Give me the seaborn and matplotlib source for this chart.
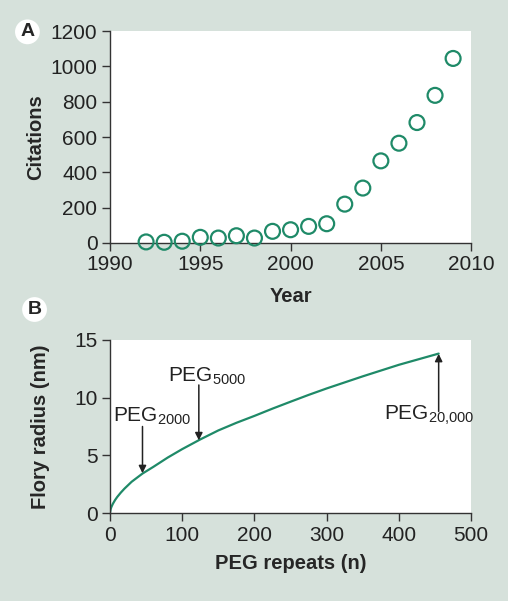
import matplotlib
matplotlib.use("Agg")
import matplotlib.pyplot as plt
import seaborn as sns
import pandas as pd

years = [1992, 1993, 1994, 1995, 1996, 1997, 1998, 1999, 2000, 2001, 2002,
         2003, 2004, 2005, 2006, 2007, 2008, 2009]
citations = [6, 4, 10, 32, 28, 41, 28, 66, 75, 94, 109,
             220, 311, 465, 565, 682, 836, 1045]

peg_repeats = [0, 1, 2, 4, 7, 10, 15, 20, 30, 45, 60, 80, 100, 125, 150, 175, 200,
               225, 250, 275, 300, 350, 400, 455]
flory_radius = [0.0, 0.35, 0.53, 0.80, 1.12, 1.39, 1.77, 2.11, 2.71, 3.42, 4.00,
                4.81, 5.54, 6.38, 7.16, 7.82, 8.42, 9.05, 9.65, 10.24, 10.80,
                11.85, 12.85, 13.82]

# label, arrow x, arrow tip y, arrow tail y, text x, text baseline y
markers = [("PEG$_{2000}$", 45, 3.45, 7.5, 4, 7.9),
           ("PEG$_{5000}$", 123, 6.3, 11.1, 80, 11.35),
           ("PEG$_{20{,}000}$", 455, 13.8, 8.8, 379, 8.05)]

sns.set_theme(style="ticks")
plt.rcParams["font.family"] = ["Liberation Sans", "DejaVu Sans"]
plt.rcParams["mathtext.fontset"] = "custom"
plt.rcParams["mathtext.rm"] = "Liberation Sans"
plt.rcParams["mathtext.default"] = "regular"

bg = "#d6e1db"
green = "#1f8a68"
dark = "#333333"
fs = 15

fig = plt.figure(figsize=(5.08, 6.01), dpi=100, facecolor=bg)
axA = fig.add_axes([0.2165, 0.5957, 0.711, 0.3526])
axB = fig.add_axes([0.2165, 0.1464, 0.711, 0.2879])

dfA = pd.DataFrame({"Year": years, "Citations": citations})
sns.scatterplot(data=dfA, x="Year", y="Citations", ax=axA, s=115,
                facecolor="none", edgecolor=green, linewidth=1.6, clip_on=False, zorder=5)
axA.set_xlim(1990, 2010)
axA.set_ylim(0, 1200)
axA.set_xticks([1990, 1995, 2000, 2005, 2010])
axA.set_yticks(range(0, 1201, 200))
axA.set_xlabel("Year", fontsize=fs - 0.5, fontweight="bold", labelpad=9)
axA.set_ylabel("Citations", fontsize=fs - 0.5, fontweight="bold", labelpad=4)

dfB = pd.DataFrame({"n": peg_repeats, "R": flory_radius})
sns.lineplot(data=dfB, x="n", y="R", ax=axB, color=green, linewidth=1.6)
axB.set_xlim(0, 500)
axB.set_ylim(0, 15)
axB.set_xticks(range(0, 501, 100))
axB.set_yticks([0, 5, 10, 15])
axB.set_xlabel("PEG repeats (n)", fontsize=fs - 0.5, fontweight="bold", labelpad=7)
axB.set_ylabel("Flory radius (nm)", fontsize=fs - 0.5, fontweight="bold", labelpad=17)

for label, x, ytip, ytail, tx, ty in markers:
    axB.annotate("", xy=(x, ytip), xytext=(x, ytail),
                 arrowprops=dict(arrowstyle="-|>", color="#222222", lw=1.1,
                                 mutation_scale=11, shrinkA=0, shrinkB=0))
    axB.text(tx, ty, label, ha="left", va="baseline", fontsize=fs, color="#222222")

for ax in (axA, axB):
    ax.set_facecolor("white")
    sns.despine(ax=ax)
    for s in ("left", "bottom"):
        ax.spines[s].set_color(dark)
        ax.spines[s].set_linewidth(1.0)
    ax.tick_params(direction="out", length=6, width=1.0, color=dark,
                   labelsize=fs, labelcolor="#222222", pad=3)

for txt, x, y in (("A", 0.054, 0.947), ("B", 0.068, 0.485)):
    fig.text(x, y, txt, fontsize=14, fontweight="bold",
             ha="center", va="center",
             bbox=dict(boxstyle="circle,pad=0.2", fc="white", ec="none"))

fig.savefig("out.png", dpi=100, facecolor=bg)
